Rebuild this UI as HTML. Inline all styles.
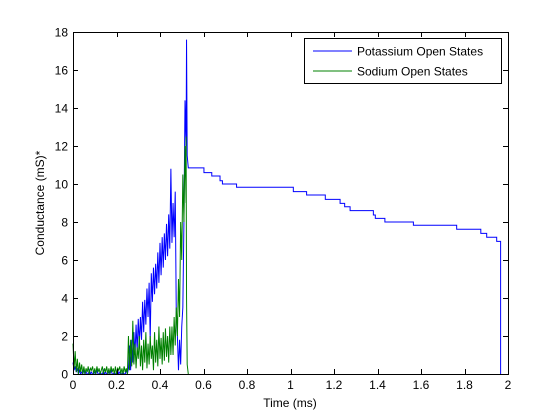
<!DOCTYPE html>
<html><head><meta charset="utf-8"><style>
html,body{margin:0;padding:0;background:#fff;}
svg{display:block;font-family:"Liberation Sans",Arial,sans-serif;}
</style></head><body>
<svg id="chart" width="560" height="420" viewBox="0 0 560 420" xmlns="http://www.w3.org/2000/svg">
<rect x="0" y="0" width="560" height="420" fill="#fff"/>
<rect x="73" y="32" width="435" height="342" fill="#fff"/>
<g id="series"></g>
<g id="axes"></g>
<g>
<rect x="304.5" y="38.5" width="197" height="45" fill="#fff" stroke="#000" stroke-width="1"/>
<line x1="313" y1="51" x2="352" y2="51" stroke="#0000ff"/>
<text x="357" y="55.5" font-size="12">Potassium Open States</text>
<line x1="313" y1="71" x2="352" y2="71" stroke="#008000"/>
<text x="357" y="75.5" font-size="12">Sodium Open States</text>
</g>
<text x="290" y="407" font-size="12" text-anchor="middle">Time (ms)</text>
<text transform="translate(44,203) rotate(-90)" font-size="12" text-anchor="middle">Conductance (mS)*</text>
</svg>
<script>
const xTicks=[0,0.2,0.4,0.6,0.8,1,1.2,1.4,1.6,1.8,2];
const xTickLabels=["0","0.2","0.4","0.6","0.8","1","1.2","1.4","1.6","1.8","2"];
const yTicks=[0,2,4,6,8,10,12,14,16,18];
const yTickLabels=["0","2","4","6","8","10","12","14","16","18"];
// noisy segment sampled every 0.005 ms starting at t=0
const noiseDt=0.005;
const potNoise=[0.6,0.2,0.4,0.1,0.3,0,0.2,0,0.1,0,0.2,0,0.1,0,0,0.2,0,0.1,0,0,0.1,0,0.2,0,0,0.1,0,0,0.2,0,0.1,0,0,0.1,0,0.2,0,0,0.1,0,0,0.2,0,0.1,0,0,0.1,0,0,0.2,0,
0.3,1.5,0.2,1.8,0.6,2.2,1.0,2.6,1.2,2.9,1.6,3.0,1.8,3.8,2.2,3.9,2.6,4.5,3.0,4.8,1.8,5.3,3.8,5.6,4.2,5.8,4.5,6.4,4.8,6.9,5.2,7.2,5.6,7.4,6.0,7.9,6.2,8.4,6.6,10.8,6.9,9.0,7.2,9.6,3.0,2.0,0.2,1.8,0.5,2.5,3.5,8.0,14.4];
const potTailT=[0.52,0.522,0.525,0.53,0.602,0.638,0.676,0.687,0.752,1.013,1.074,1.16,1.228,1.249,1.274,1.381,1.39,1.434,1.565,1.764,1.875,1.902,1.948,1.966,1.966];
const potTailV=[12.0,17.6,11.5,10.85,10.6,10.42,10.17,10.0,9.83,9.6,9.42,9.19,8.98,8.8,8.6,8.37,8.19,8.0,7.83,7.62,7.4,7.2,6.98,6.98,0];
const naNoise=[1.6,0.3,1.2,0.1,0.8,0,0.6,0.1,0.5,0,0.4,0,0.3,0.1,0.4,0,0.3,0.2,0.4,0,0.3,0,0.4,0.1,0.3,0,0.2,0.4,0,0.3,0.1,0.4,0,0.3,0,0.4,0.1,0.3,0,0.4,0,0.3,0.2,0.4,0,0.3,0,0.4,0.1,0.3,0,
2.0,0.2,1.8,0.4,2.8,0.5,1.6,0.3,1.4,0.8,2.0,0.4,1.5,0.2,1.8,0.6,2.2,0.3,1.6,0.5,2.0,0.8,1.5,0.2,2.2,0.6,1.8,0.4,2.5,0.8,1.9,0.5,2.2,0.7,2.4,0.9,2.0,0.6,2.5,1.0,2.5,1.0,3.0,1.5,3.5,2.0,5.0,3.0,8.0,6.0,10.5,8.0,12.0,9.0];
const naTailT=[0.52,0.522,0.525,0.53];
const naTailV=[12.5,4.0,0.5,0];
const X0=73,X1=508,Y0=374,Y1=32,XMAX=2,YMAX=18;
const sx=t=>X0+(t/XMAX)*(X1-X0);
const sy=v=>Y0-(v/YMAX)*(Y0-Y1);
const NS="http://www.w3.org/2000/svg";
const series=document.getElementById('series');
const axes=document.getElementById('axes');
function buildPts(noise,tt,tv,stairs){
  const p=[];
  noise.forEach((v,i)=>p.push([i*noiseDt,v]));
  for(let i=0;i<tt.length;i++){
    if(stairs&&i>3&&p.length){p.push([tt[i],p[p.length-1][1]]);}
    p.push([tt[i],tv[i]]);
  }
  return p.map(q=>sx(q[0]).toFixed(2)+','+sy(q[1]).toFixed(2)).join(' ');
}
const pk=document.createElementNS(NS,'polyline');
pk.setAttribute('points',buildPts(potNoise,potTailT,potTailV,true));
pk.setAttribute('fill','none');pk.setAttribute('stroke','#0000ff');pk.setAttribute('stroke-width','1');


series.appendChild(pk);
const na=document.createElementNS(NS,'polyline');
na.setAttribute('points',buildPts(naNoise,naTailT,naTailV,false));
na.setAttribute('fill','none');na.setAttribute('stroke','#008000');na.setAttribute('stroke-width','1');


series.appendChild(na);
const box=document.createElementNS(NS,'rect');
box.setAttribute('x',X0+0.5);box.setAttribute('y',Y1+0.5);box.setAttribute('width',X1-X0);box.setAttribute('height',Y0-Y1);
box.setAttribute('fill','none');box.setAttribute('stroke','#000');


axes.appendChild(box);
function ln(x1,y1,x2,y2,name){const l=document.createElementNS(NS,'line');l.setAttribute('x1',x1);l.setAttribute('y1',y1);l.setAttribute('x2',x2);l.setAttribute('y2',y2);l.setAttribute('stroke','#000');


axes.appendChild(l);}
function tx(x,y,s,anchor,name){const t=document.createElementNS(NS,'text');t.setAttribute('x',x);t.setAttribute('y',y);t.setAttribute('font-size','12');t.setAttribute('text-anchor',anchor);t.textContent=s;


axes.appendChild(t);}
xTicks.forEach((v,i)=>{const x=Math.round(sx(v))+0.5;ln(x,Y0,x,Y0-5,'x-tick');ln(x,Y1,x,Y1+5,'x-tick-top');tx(sx(v),389,xTickLabels[i],'middle','x-tick-label');});
yTicks.forEach((v,i)=>{const y=Math.round(sy(v))+0.5;ln(X0,y,X0+5,y,'y-tick');ln(X1,y,X1-5,y,'y-tick-right');tx(68,sy(v)+4.5,yTickLabels[i],'end','y-tick-label');});
</script>
</body></html>
